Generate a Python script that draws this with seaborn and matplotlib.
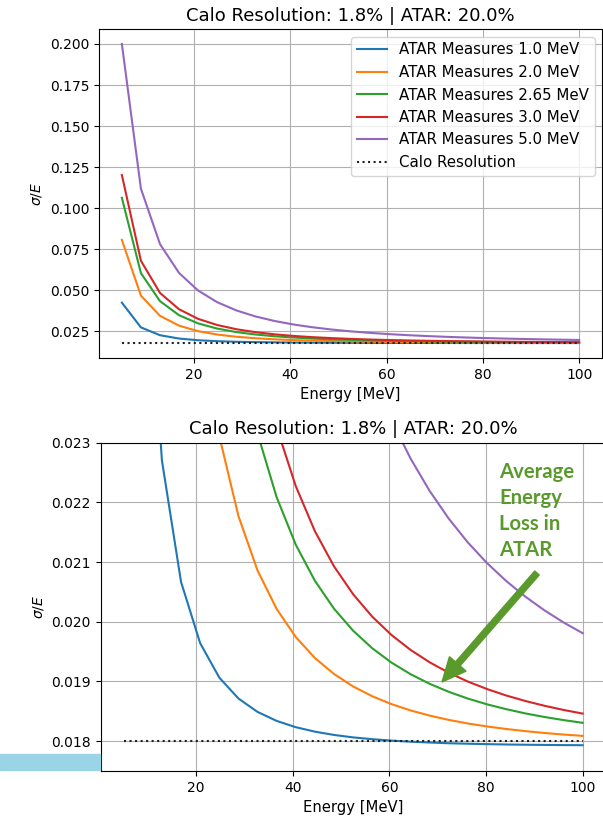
import matplotlib
matplotlib.use("Agg")
import matplotlib.pyplot as plt
from matplotlib.patches import FancyArrow, Rectangle
import seaborn as sns

# ---- data ----
energy = [5.0, 8.958, 12.917, 16.875, 20.833, 24.792, 28.75, 32.708, 36.667,
          40.625, 44.583, 48.542, 52.5, 56.458, 60.417, 64.375, 68.333, 72.292,
          76.25, 80.208, 84.167, 88.125, 92.083, 96.042, 100.0]

atar_1 = [0.042513, 0.027461, 0.022705, 0.020669, 0.019642, 0.019065, 0.018715,
          0.018490, 0.018339, 0.018234, 0.018159, 0.018104, 0.018063, 0.018033,
          0.018009, 0.017991, 0.017977, 0.017965, 0.017957, 0.017950, 0.017944,
          0.017940, 0.017937, 0.017934, 0.017932]
atar_2 = [0.080726, 0.046789, 0.034503, 0.028524, 0.025168, 0.023112, 0.021773,
          0.020860, 0.020215, 0.019744, 0.019393, 0.019125, 0.018916, 0.018752,
          0.018621, 0.018515, 0.018428, 0.018356, 0.018296, 0.018246, 0.018204,
          0.018168, 0.018137, 0.018111, 0.018088]
atar_265 = [0.106338, 0.060505, 0.043455, 0.034880, 0.029900, 0.026748, 0.024635,
            0.023156, 0.022086, 0.021291, 0.020687, 0.020219, 0.019850, 0.019556,
            0.019317, 0.019122, 0.018961, 0.018826, 0.018713, 0.018617, 0.018536,
            0.018465, 0.018405, 0.018353, 0.018307]
atar_3 = [0.120216, 0.068038, 0.048464, 0.038513, 0.032663, 0.028915, 0.026372,
          0.024572, 0.023258, 0.022272, 0.021517, 0.020928, 0.020461, 0.020085,
          0.019780, 0.019529, 0.019321, 0.019146, 0.018998, 0.018873, 0.018765,
          0.018673, 0.018593, 0.018523, 0.018462]
atar_5 = [0.200000, 0.111911, 0.078202, 0.060598, 0.049911, 0.042819, 0.037828,
          0.034165, 0.031392, 0.029242, 0.027541, 0.026174, 0.025061, 0.024143,
          0.023378, 0.022736, 0.022192, 0.021727, 0.021328, 0.020983, 0.020684,
          0.020422, 0.020192, 0.019989, 0.019809]

series_labels = ["ATAR Measures 1.0 MeV", "ATAR Measures 2.0 MeV",
                 "ATAR Measures 2.65 MeV", "ATAR Measures 3.0 MeV",
                 "ATAR Measures 5.0 MeV"]
series_values = [atar_1, atar_2, atar_265, atar_3, atar_5]

calo_x = [5.0, 100.0]
calo_y = [0.018, 0.018]
calo_label = "Calo Resolution"

title = "Calo Resolution: 1.8% | ATAR: 20.0%"
xlabel = "Energy [MeV]"
ylabel = r"$\sigma/E$"
bottom_yticks = [0.018, 0.019, 0.020, 0.021, 0.022, 0.023]
annotation = "Average\nEnergy\nLoss in\nATAR"

# ---- figure ----
DPI = 100
W, H = 603, 819
fig = plt.figure(figsize=(W / DPI, H / DPI), dpi=DPI)
colors = sns.color_palette("tab10", 5)


def draw(ax, legend):
    for lab, vals, c in zip(series_labels, series_values, colors):
        sns.lineplot(x=energy, y=vals, ax=ax, color=c, linewidth=1.5,
                     label=lab if legend else None)
    sns.lineplot(x=calo_x, y=calo_y, ax=ax, color="#222222", linestyle=":",
                 linewidth=1.5, label=calo_label if legend else None)
    ax.grid(True, color="#b0b0b0", linewidth=0.8)
    ax.set_axisbelow(True)
    ax.set_title(title, fontsize=13)
    ax.set_xlabel(xlabel, fontsize=10.6)
    ax.set_ylabel(ylabel, fontsize=10)
    ax.tick_params(labelsize=10)


ax1 = fig.add_axes([99 / W, (H - 358) / H, (602 - 99) / W, (358 - 29) / H])
draw(ax1, True)
ax1.margins(x=0.05, y=0.05)
ax1.legend(loc="upper right", fontsize=10.8)

ax2 = fig.add_axes([100.7 / W, (H - 771) / H, (605.6 - 100.7) / W, (771 - 442.7) / H])
draw(ax2, False)
if ax2.get_legend() is not None:
    ax2.get_legend().remove()
ax2.set_xlim(ax1.get_xlim())
ax2.set_ylim(0.0175, 0.023)
ax2.set_yticks(bottom_yticks)
ax2.set_yticklabels([f"{t:.3f}" for t in bottom_yticks])

# annotation text and arrow (screen-pixel positions converted to inches)
green = "#5a9a2c"
fig.text(499 / W, (H - 462) / H, annotation, color=green, fontsize=14.6,
         fontweight="bold", family=["Lato", "DejaVu Sans"], va="top", ha="left",
         linespacing=1.38)

tail = (537 / DPI, (H - 573) / DPI)
tip = (442 / DPI, (H - 682) / DPI)
arrow = FancyArrow(tail[0], tail[1], tip[0] - tail[0], tip[1] - tail[1],
                   width=6 / DPI, head_width=22 / DPI, head_length=24 / DPI,
                   length_includes_head=True, color=green,
                   transform=fig.dpi_scale_trans)
fig.add_artist(arrow)

# light blue strip at the lower left
rect = Rectangle((0, (H - 770) / DPI), 100 / DPI, 16 / DPI, color="#9bd4e7",
                 transform=fig.dpi_scale_trans, zorder=5)
fig.add_artist(rect)

fig.savefig("out.png", dpi=DPI)
